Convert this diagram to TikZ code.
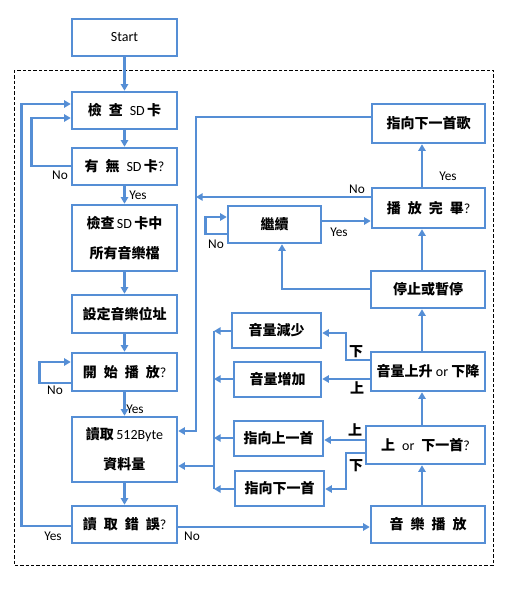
\documentclass[tikz,border=0pt]{standalone}
\usepackage{fontspec}
\setmainfont{Carlito}
\newfontfamily\cjk{Noto Sans CJK TC}
\usetikzlibrary{arrows.meta}
\definecolor{bl}{RGB}{85,142,213}
\newcommand\zh[1]{{\cjk\bfseries #1}}
\newcommand\bx[6]{\node[box,minimum width={(#4-#2)*0.75pt},minimum height={(#5-#3)*0.75pt}] (#1) at ({(#2+#4)/2},{(#3+#5)/2}) {#6};}
\begin{document}
\begin{tikzpicture}[x=0.75pt,y=-0.75pt,
 box/.style={draw=bl,line width=1.9pt,fill=white,inner sep=0pt,font=\fontsize{10.5}{22.5}\selectfont,align=center},
 ar/.style={draw=bl,line width=1.9pt,-{Triangle[length=5pt,width=5.5pt]}},
 ln/.style={draw=bl,line width=1.9pt},
 lab/.style={font=\fontsize{10}{12}\selectfont,inner sep=0pt},
 zlab/.style={font=\fontsize{10.5}{12}\selectfont\cjk\bfseries,inner sep=0pt},
]
\fill[white] (0,0) rectangle (519,589);
\useasboundingbox (0,0) rectangle (519,589);
\draw[dash pattern=on 2.5pt off 1.5pt, line width=0.75pt] (14,70) rectangle (493,565);

\bx{start}{72}{19}{177}{56}{Start}
\bx{chk}{72}{92}{177}{129}{\zh{檢}\enspace\zh{查}\enspace SD\,\zh{卡}}
\bx{has}{72}{148}{177}{185}{\zh{有}\enspace\zh{無}\enspace SD\,\zh{卡}?}
\bx{scan}{72}{205}{177}{271}{\zh{檢查}\,SD\,\zh{卡中}\\\zh{所有音樂檔}}
\bx{set}{72}{295}{177}{333}{\zh{設定音樂位址}}
\bx{play}{72}{353}{177}{391}{\zh{開}\enspace\zh{始}\enspace\zh{播}\enspace\zh{放}?}
\bx{read}{72}{417}{177}{482}{\zh{讀取}\,512Byte\\\zh{資料量}}
\bx{err}{72}{506}{177}{543}{\zh{讀}\enspace\zh{取}\enspace\zh{錯}\enspace\zh{誤}?}
\bx{nsong}{372}{104}{485}{143}{\zh{指向下一首歌}}
\bx{done}{372}{188}{485}{228}{\zh{播}\enspace\zh{放}\enspace\zh{完}\enspace\zh{畢}?}
\bx{cont}{228}{206}{321}{243}{\zh{繼續}}
\bx{stop}{371}{271}{485}{308}{\zh{停止或暫停}}
\bx{vol}{371}{352}{485}{391}{\zh{音量上升}\ or\ \zh{下降}}
\bx{trk}{366}{426}{485}{464}{\zh{上}\enspace or\enspace\zh{下一首}?}
\bx{music}{371}{506}{485}{543}{\zh{音}\enspace\zh{樂}\enspace\zh{播}\enspace\zh{放}}
\bx{dec}{232}{313}{321}{348}{\zh{音量減少}}
\bx{inc}{234}{362}{321}{397}{\zh{音量增加}}
\bx{prev}{234}{421}{323}{456}{\zh{指向上一首}}
\bx{nxt}{235}{471}{324}{506}{\zh{指向下一首}}

\coordinate (mid) at (196,0);
\coordinate (col) at (214,0);
\coordinate (up) at (422,0);

% left column
\draw[ar] (start) -- (chk);
\draw[ar] (chk) -- (has);
\draw[ar] (has) -- (scan);
\draw[ar] (scan) -- (set);
\draw[ar] (set) -- (play);
\draw[ar] (play) -- (read);
\draw[ar] (read) -- (err);
\draw[ar] (has.west |- 0,166) -- ++(-39,0) |- (chk.west |- 0,118);
\draw[ar] (err.west |- 0,526) -- ++(-49,0) |- (chk.west |- 0,104);
\draw[ar] (play.west |- 0,383) -- ++(-31,0) |- (play.west |- 0,362);
\draw[ar] (err.east |- 0,527) -- (music.west |- 0,527);

% right column
\draw[ar] (music.north -| up) -- (trk.south -| up);
\draw[ar] (trk.north -| up) -- (vol.south -| up);
\draw[ar] (vol.north -| up) -- (stop.south -| up);
\draw[ar] (stop.north -| up) -- (done.south -| up);
\draw[ar] (done.north -| up) -- (nsong.south -| up);

% middle
\draw[ar] (nsong.west |- 0,117) -| (mid |- 0,431) -- (read.east |- 0,431);
\draw[ar] (done.west |- 0,197) -- (mid |- 0,197);
\draw[ar] (cont.west |- 0,234) -- ++(-21,0) |- (cont.west |- 0,217);
\draw[ar] (cont.east |- 0,221) -- (done.west |- 0,221);
\draw[ar] (stop.west |- 0,289) -| (cont.south -| 282,0);

% volume / track
\draw[ar] (vol.west |- 0,360) -- (346,360) |- (dec.east |- 0,333);
\draw[ar] (vol.west |- 0,379) -- (inc.east |- 0,379);
\draw[ar] (trk.west |- 0,440) -- (prev.east |- 0,440);
\draw[ar] (trk.west |- 0,453) -- (346,453) |- (nxt.east |- 0,489);

% collector
\draw[ln] (col |- 0,331) -- (col |- 0,489);
\draw[ar] (dec.west |- 0,331) -- (col |- 0,331);
\draw[ar] (inc.west |- 0,379) -- (col |- 0,379);
\draw[ar] (prev.west |- 0,438) -- (col |- 0,438);
\draw[ar] (nxt.west |- 0,489) -- (col |- 0,489);
\draw[ar] (col |- 0,466) -- (read.east |- 0,466);

% labels
\node[lab] (l1) at (60,175) {No};
\node[lab] (l2) at (138,195) {Yes};
\node[lab] (l3) at (55,390) {No};
\node[lab] (l4) at (135,409) {Yes};
\node[lab] (l5) at (53,536) {Yes};
\node[lab] (l6) at (192,536) {No};
\node[lab] (l7) at (357,189) {No};
\node[lab] (l8) at (216,244) {No};
\node[lab] (l9) at (339,232) {Yes};
\node[lab] (l10) at (448,176) {Yes};
\node[zlab] (l11) at (356,352) {下};
\node[zlab] (l12) at (357,388) {上};
\node[zlab] (l13) at (355,430) {上};
\node[zlab] (l14) at (356,466) {下};
\end{tikzpicture}
\end{document}
